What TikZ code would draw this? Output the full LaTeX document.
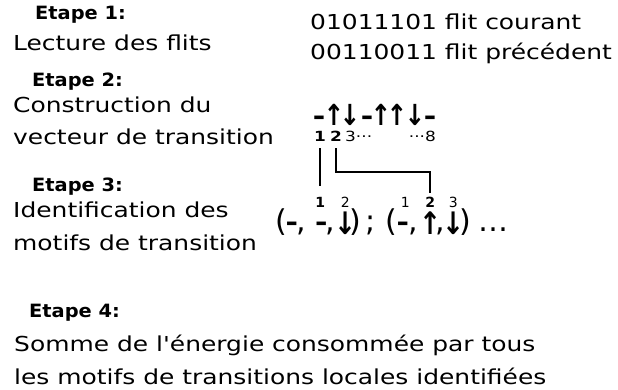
\documentclass[tikz,border=0pt]{standalone}
\usepackage{fontspec}
\setmainfont[FakeStretch=1.21,Ligatures=TeXOff]{DejaVu Sans}
\newfontfamily\etapefont[FakeStretch=1.06]{DejaVu Sans Bold}
\newfontfamily\flechefont[FakeStretch=0.85]{DejaVu Sans Bold}
\newfontfamily\ponctfont{DejaVu Sans}
% symboles des motifs
\newcommand\fleche[1]{{\flechefont\fontsize{31}{31}\selectfont\raisebox{-3pt}{#1}}}
\newcommand\tiret{{\flechefont\fontsize{28}{28}\selectfont –}}
\newcommand\petit[1]{{\fontsize{14}{14}\selectfont\raisebox{24pt}{#1}}}
\newcommand\place[2]{\rlap{\hspace*{#1pt}\makebox[0pt]{#2}}}

\tikzset{
	etape/.style={anchor=base west, inner sep=0pt, font=\etapefont\fontsize{18.3}{22}\selectfont},
	corps/.style={anchor=base west, inner sep=0pt, font=\fontsize{20.6}{24}\selectfont},
	fleche/.style={anchor=base, inner sep=0pt, font=\flechefont\fontsize{29}{30}\selectfont},
	tiretv/.style={anchor=base, inner sep=0pt, font=\flechefont\fontsize{28}{30}\selectfont},
	ponct/.style={anchor=base west, inner sep=0pt, font=\ponctfont\fontsize{30}{32}\selectfont},
	indice/.style={anchor=base, inner sep=0pt, font=\fontsize{14}{16}\selectfont},
	indicegras/.style={anchor=base, inner sep=0pt, font=\bfseries\fontsize{14}{16}\selectfont},
	lien/.style={line width=1.5pt}
}

\begin{document}
\begin{tikzpicture}[x=1pt,y=1pt,yscale=-1]
	\useasboundingbox (0,0) rectangle (618,390);
	%etape 1
	% Text Node
	\draw (35,20) node[etape] (e1) {Etape 1:};
	% Text Node
	\draw (13,51) node[corps] (lecture) {Lecture des flits};
	% Text Node
	\draw (310,30) node[corps] (courant) {01011101 flit courant};
	% Text Node
	\draw (310,60) node[corps] (precedent) {00110011 flit précédent};

	%etape 2
	\draw (32,87) node[etape] (e2) {Etape 2:};
	% Text Node
	\draw (13,113) node[corps] (constr) {Construction du};
	% Text Node
	\draw (13,145) node[corps] (vecteur) {vecteur de transition};
	% vecteur
	\foreach \x/\s/\st [count=\i] in {319/–/tiretv,334/↑/fleche,350/↓/fleche,367/–/tiretv,381/↑/fleche,397/↑/fleche,415/↓/fleche,430/–/tiretv}
		\draw (\x,126) node[\st] (v\i) {\s};
	% indices
	\draw (320,142) node[indicegras] (n1) {1};
	\draw (336,142) node[indicegras] (n2) {2};
	\draw (345,142) node[indice,anchor=base west] (n3) {3···};
	\draw (436,142) node[indice,anchor=base east] (n8) {···8};

	%etape 3
	\draw (32,192) node[etape] (e3) {Etape 3:};
	% Text Node
	\draw (13,218) node[corps] (ident) {Identification des};
	% Text Node
	\draw (13,250) node[corps] (motifs) {motifs de transition};
	% motifs, avec leurs indices
	\draw (276,231) node[ponct] (tuples) {%
		\place{5.5}{(}\place{15.5}{\tiret}\place{25.5}{,}%
		\place{44}{\petit{\bfseries 1}}\place{45}{\tiret}\place{54}{,}%
		\place{69}{\petit{2}}\place{69}{\fleche{↓}}\place{79.5}{)}%
		\place{94}{;}%
		\place{115.5}{(}\place{129}{\petit{1}}\place{126.5}{\tiret}\place{137}{,}%
		\place{154}{\petit{\bfseries 2}}\place{154}{\fleche{↑}}\place{164}{,}%
		\place{177}{\petit{3}}\place{177.5}{\fleche{↓}}\place{189.5}{)}%
		\place{217}{…}\hspace*{228pt}};

	\coordinate (b1) at (320,186);
	\coordinate (b2) at (430,193);
	\coordinate (coude) at (400,172);
	\draw[lien, shorten <=6pt] (n1.south) -- (b1);
	\draw[lien, shorten <=6pt] (n2.south) |- (coude) -| (b2);

	%etape 4
	\draw (29,317) node[etape] (e4) {Etape 4:};
	% Text Node
	\draw (14,351) node[corps] (somme) {Somme de l'énergie consommée par tous};
	% Text Node
	\draw (14,384) node[corps] (locales) {les motifs de transitions locales identifiées};
\end{tikzpicture}
\end{document}
